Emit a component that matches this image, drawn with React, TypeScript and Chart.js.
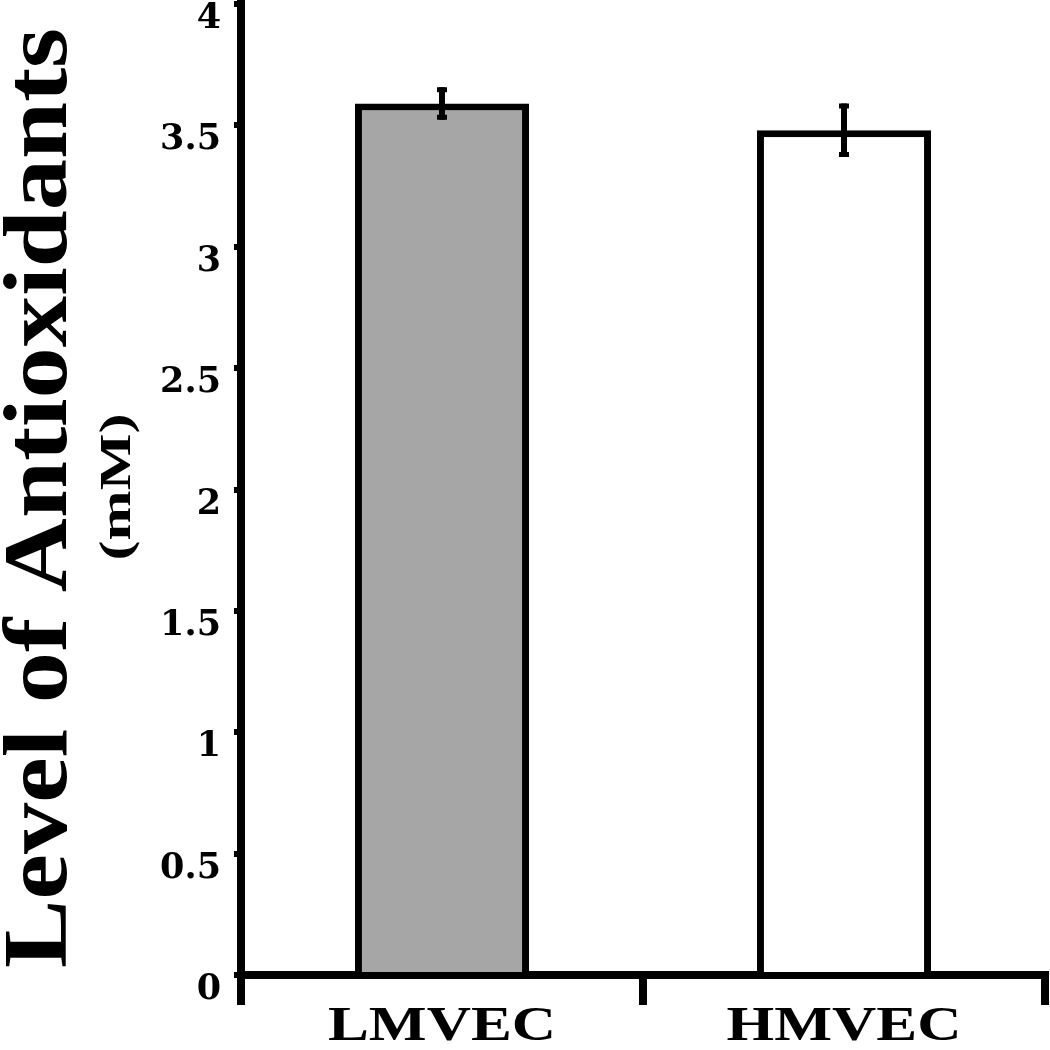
import React, { useEffect, useRef } from "react";
import { Chart, registerables } from "chart.js";

Chart.register(...registerables);

const categories: string[] = ["LMVEC", "HMVEC"];
const values: number[] = [3.59, 3.48];
const errors: number[] = [0.067, 0.11];
const barColors: string[] = ["#a6a6a6", "#ffffff"];
const yTitle = "Level of Antioxidants";
const yUnit = "(mM)";
const yMin = 0;
const yMax = 4;
const yStep = 0.5;

const SERIF = '"Liberation Serif", "Times New Roman", Times, serif';

const errorBarPlugin = {
  id: "errorBars",
  afterDatasetsDraw(chart: any) {
    const ctx = chart.ctx;
    const meta = chart.getDatasetMeta(0);
    const yScale = chart.scales.y;
    ctx.save();
    ctx.strokeStyle = "#000";
    meta.data.forEach((bar: any, i: number) => {
      const x = bar.x;
      const yTop = yScale.getPixelForValue(values[i] + errors[i]);
      const yBot = yScale.getPixelForValue(values[i] - errors[i]);
      ctx.lineWidth = 6;
      ctx.beginPath();
      ctx.moveTo(x, yTop);
      ctx.lineTo(x, yBot);
      ctx.stroke();
      ctx.lineWidth = 5;
      ctx.beginPath();
      ctx.moveTo(x - 5, yTop + 2.5);
      ctx.lineTo(x + 5, yTop + 2.5);
      ctx.moveTo(x - 5, yBot - 2.5);
      ctx.lineTo(x + 5, yBot - 2.5);
      ctx.stroke();
    });
    ctx.restore();
  },
};

const textPlugin = {
  id: "texts",
  afterDraw(chart: any) {
    const ctx = chart.ctx;
    ctx.save();
    ctx.fillStyle = "#000";
    ctx.textAlign = "center";
    ctx.textBaseline = "alphabetic";

    // rotated title
    ctx.save();
    ctx.font = "bold 91px " + SERIF;
    const tw = ctx.measureText(yTitle).width;
    ctx.translate(66, 498);
    ctx.rotate(-Math.PI / 2);
    ctx.scale(940 / tw, 1);
    ctx.fillText(yTitle, 0, 0);
    ctx.restore();

    // unit
    ctx.save();
    ctx.font = "bold 45px " + SERIF;
    const uw = ctx.measureText(yUnit).width;
    ctx.translate(130, 487);
    ctx.rotate(-Math.PI / 2);
    ctx.scale(147 / uw, 1);
    ctx.fillText(yUnit, 0, 0);
    ctx.restore();

    // category labels
    const xScale = chart.scales.x;
    ctx.font = "bold 48px " + SERIF;
    const lw = ctx.measureText(categories[0]).width;
    const sx = 228 / lw;
    categories.forEach((c, i) => {
      const x = xScale.getPixelForValue(i);
      ctx.save();
      ctx.translate(x, 1040);
      ctx.scale(sx, 1);
      ctx.fillText(c, 0, 0);
      ctx.restore();
    });
    ctx.restore();
  },
};

export default function App() {
  const ref = useRef<HTMLCanvasElement>(null);
  useEffect(() => {
    let chart: any = null;
    let cancelled = false;
    const build = () => {
      if (cancelled || !ref.current) return;
      chart = new Chart(ref.current, {
        type: "bar",
        data: {
          labels: categories,
          datasets: [
            {
              data: values,
              backgroundColor: barColors,
              borderColor: "#000",
              borderWidth: 7,
              barPercentage: 0.433,
              categoryPercentage: 1,
            },
          ],
        },
        options: {
          responsive: false,
          animation: false,
          events: [],
          layout: { padding: { left: 0, top: 4, right: 5, bottom: 0 } },
          plugins: {
            legend: { display: false },
            tooltip: { enabled: false },
            title: { display: false },
          },
          scales: {
            x: {
              grid: {
                display: true,
                drawOnChartArea: false,
                drawTicks: true,
                tickLength: 30,
                lineWidth: 8,
                color: "#000",
                offset: true,
              },
              border: { display: true, color: "#000", width: 8 },
              ticks: { display: false },
              afterFit(scale: any) {
                scale.height = 75;
                scale.paddingLeft = 0;
                scale.paddingRight = 0;
              },
            },
            y: {
              min: yMin,
              max: yMax,
              grid: {
                drawOnChartArea: false,
                drawTicks: true,
                tickLength: 7,
                lineWidth: 6,
                color: "#000",
              },
              border: { display: true, color: "#000", width: 8 },
              ticks: {
                stepSize: yStep,
                color: "#000",
                padding: 13,
                labelOffset: 15,
                font: { family: '"DejaVu Serif"', weight: "bold", size: 35 },
                callback: (v: any) => String(v),
              },
              afterFit(scale: any) {
                scale.width = 241;
                scale.paddingTop = 0;
                scale.paddingBottom = 0;
              },
            },
          },
        },
        plugins: [errorBarPlugin, textPlugin],
      });
    };
    const fonts: any = (document as any).fonts;
    if (fonts && fonts.load) {
      Promise.all([
        fonts.load("bold 91px " + SERIF),
        fonts.load('bold 35px "DejaVu Serif"'),
      ])
        .catch(() => null)
        .then(build);
    } else {
      build();
    }
    return () => {
      cancelled = true;
      if (chart) chart.destroy();
    };
  }, []);
  return (
    <div style={{ position: "absolute", left: 0, top: 0, width: 1050, height: 1050, background: "#fff" }}>
      <canvas ref={ref} width={1050} height={1050} />
    </div>
  );
}
